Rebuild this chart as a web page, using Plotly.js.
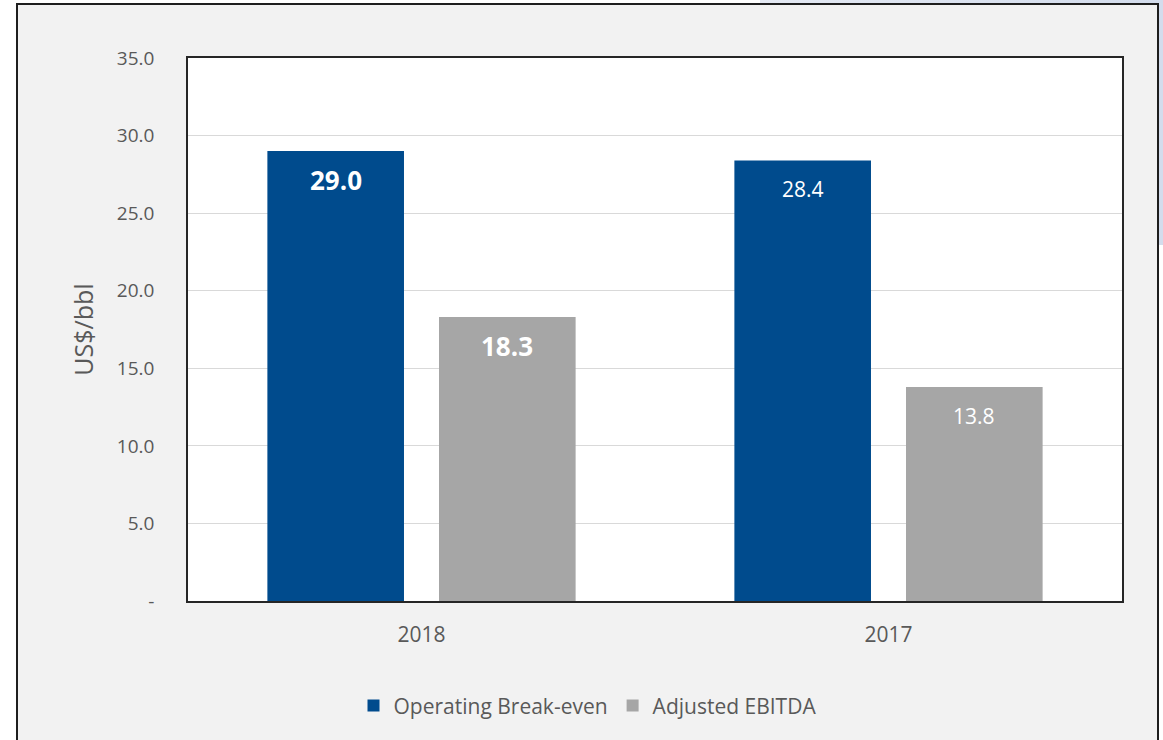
<!DOCTYPE html>
<html>
<head>
<meta charset="utf-8">
<script src="https://cdn.plot.ly/plotly-3.0.1.min.js"></script>
<style>
  html, body { margin: 0; padding: 0; background: #ffffff; width: 1163px; height: 740px; overflow: hidden; }
  #deco { position: absolute; left: 760px; top: 0; width: 403px; height: 245px;
          background: linear-gradient(90deg, #e4e9f3 0%, #d3dcec 100%); }
  #frame { position: absolute; left: 16px; top: 3px; width: 1139px; height: 745px;
           border: 2px solid #1e1e1e; background: #f2f2f2; }
  #chart { width: 1139px; height: 737px; }
</style>
</head>
<body>
<div id="deco"></div>
<div id="frame"><div id="chart"></div></div>
<script>
// ---- data ----
const categories = ["2018", "2017"];
const operatingBreakEven = [29.0, 28.4];
const adjustedEBITDA = [18.3, 13.8];
const seriesNames = ["Operating Break-even", "Adjusted EBITDA"];
const yTickVals = [0, 5, 10, 15, 20, 25, 30, 35];
const yTickText = ["-", "5.0", "10.0", "15.0", "20.0", "25.0", "30.0", "35.0"];

// ---- styling ----
const FONT = "'Open Sans', 'Noto Sans', sans-serif";
const TXT = "#595959";
const colors = ["#004b8d", "#a6a6a6"];
const labelFonts = [
  { size: 26, color: "#ffffff", family: FONT, weight: 700 },
  { size: 21, color: "#ffffff", family: FONT, weight: 400 }
];

const series = [operatingBreakEven, adjustedEBITDA];
const traces = series.map((vals, i) => ({
  type: "bar",
  name: seriesNames[i],
  x: categories,
  y: vals,
  marker: { color: colors[i] }
}));

// value labels: placed on the category axis by category index
const annotations = [];
series.forEach((vals, i) => {
  vals.forEach((v, j) => {
    annotations.push({
      x: j, y: v, xref: "x", yref: "y",
      xshift: (i === 0 ? -1 : 1) * 85.75,
      yshift: -29,
      yanchor: "middle",
      text: v.toFixed(1),
      showarrow: false,
      font: labelFonts[j]
    });
  });
});

const layout = {
  width: 1139,
  height: 737,
  paper_bgcolor: "#f2f2f2",
  plot_bgcolor: "#ffffff",
  margin: { l: 170, r: 35, t: 53, b: 141 },
  barmode: "group",
  bargap: 0.265,
  bargroupgap: 0.204,
  font: { family: FONT, color: TXT },
  showlegend: true,
  legend: {
    orientation: "h",
    xref: "container", yref: "container",
    x: 0.5, xanchor: "center",
    y: 0.049, yanchor: "middle",
    font: { size: 21, color: TXT, family: FONT },
    bgcolor: "rgba(0,0,0,0)"
  },
  xaxis: {
    type: "category",
    range: [-0.5, categories.length - 0.5],
    autorange: false,
    showline: true, mirror: true, linecolor: "#262626", linewidth: 1.5,
    showgrid: false, ticks: "",
    tickfont: { size: 21, color: TXT, family: FONT },
    ticklabelstandoff: 14
  },
  yaxis: {
    range: [0, 35],
    tickvals: yTickVals,
    ticktext: yTickText,
    showline: true, mirror: true, linecolor: "#262626", linewidth: 1.5,
    showgrid: true, gridcolor: "#d9d9d9", gridwidth: 1,
    zeroline: false, ticks: "",
    tickfont: { size: 19, color: TXT, family: FONT },
    ticklabelstandoff: 28,
    title: { text: "US$/bbl", font: { size: 25, color: TXT, family: FONT }, standoff: 16 }
  },
  annotations: annotations
};

Plotly.newPlot("chart", traces, layout, { displayModeBar: false });
</script>
</body>
</html>
